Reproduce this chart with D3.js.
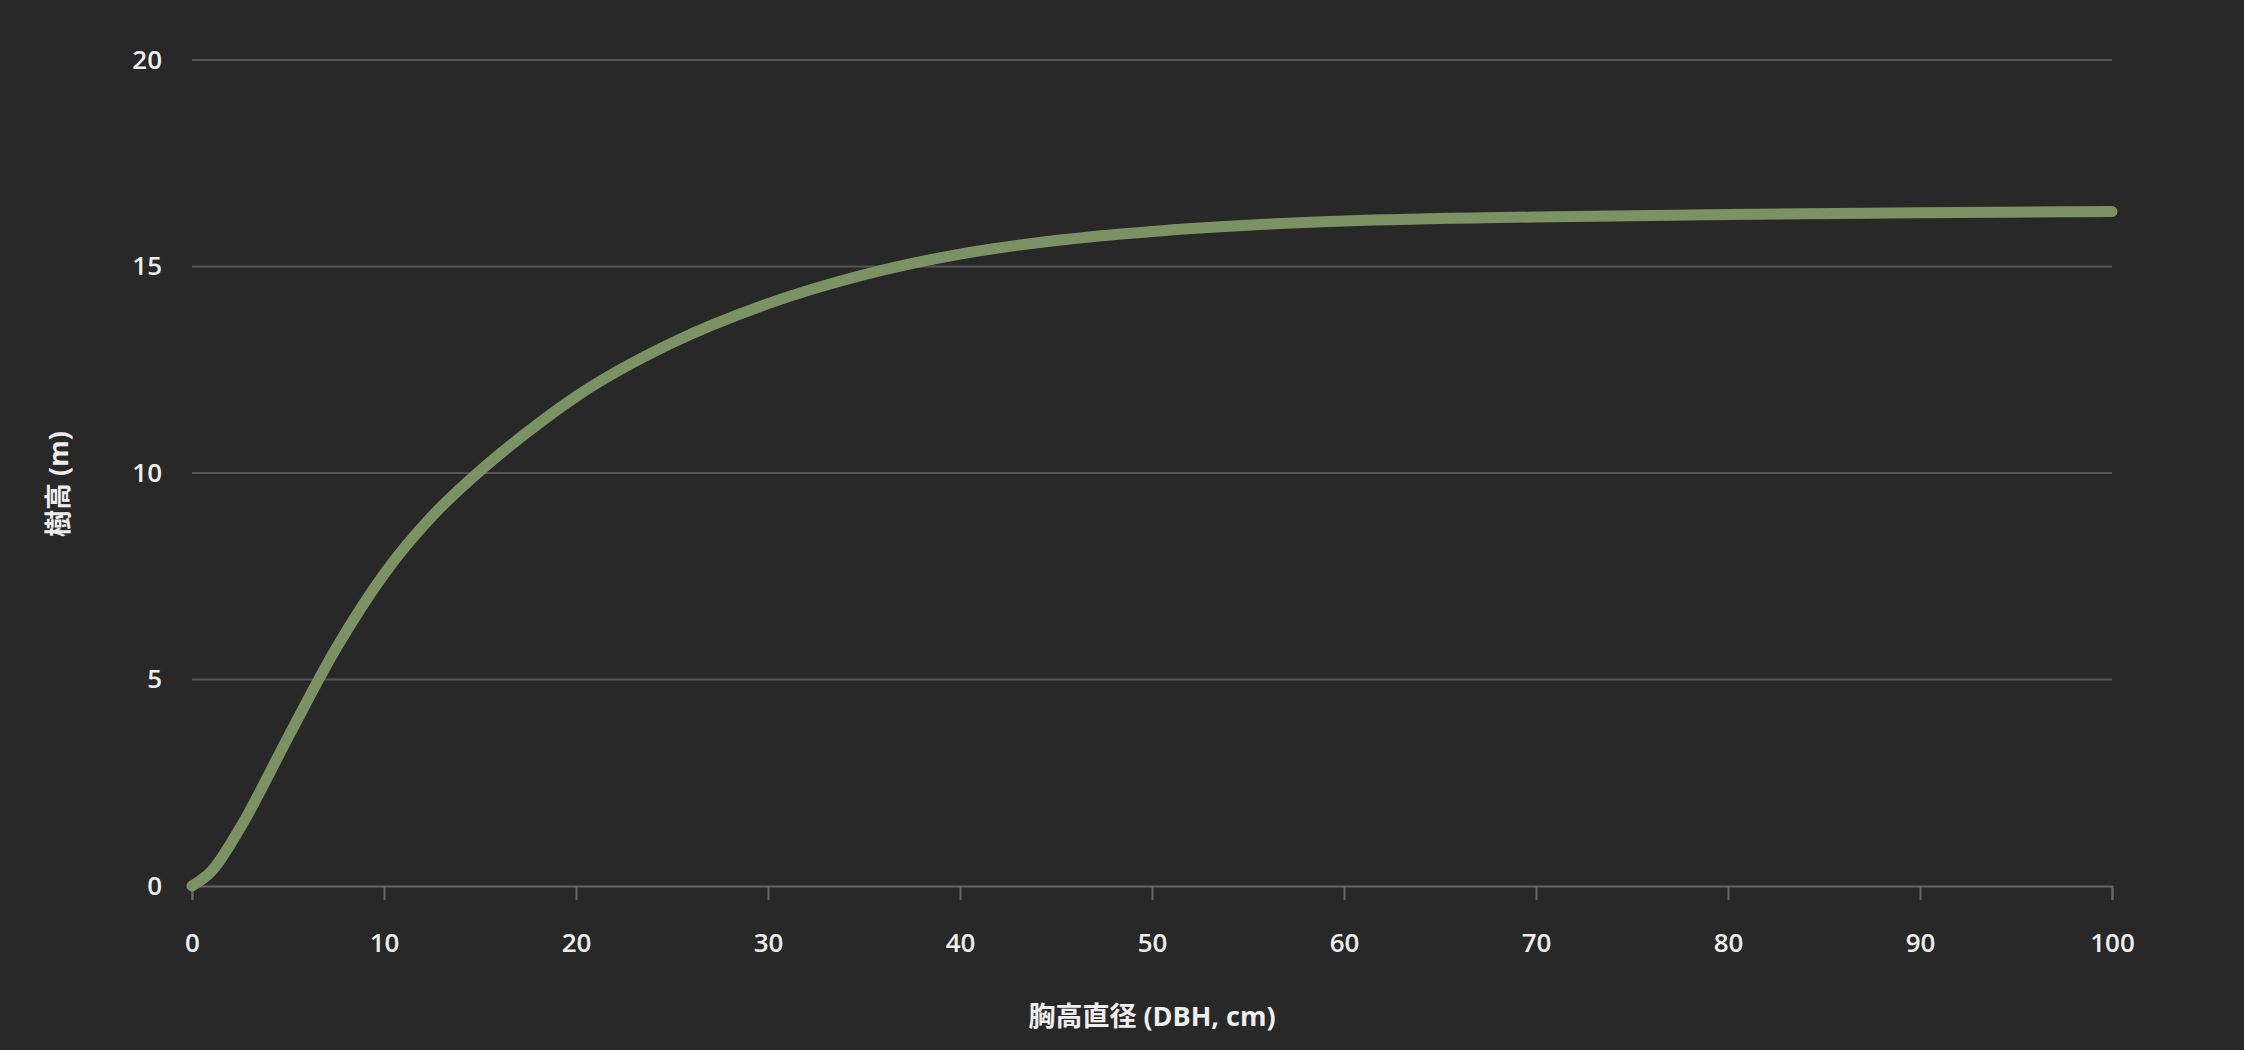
<!DOCTYPE html>
<html><head><meta charset="utf-8">
<script src="https://cdn.jsdelivr.net/npm/d3@7/dist/d3.min.js"></script>
<style>body{margin:0;background:#282828}svg{display:block}</style></head>
<body><svg id="c" width="2244" height="1050"></svg>
<script>
const dbh =    [0, 1,   2.5, 5,   7.5,  10,   12.5, 15,    17.5, 20,    25,    30,   35,   40,   45,    50,    55,   60,   70,   80,    90,   100];
const height = [0, 0.35,1.4, 3.6, 5.75, 7.55, 8.95, 10.05, 11.0, 11.85, 13.15, 14.1, 14.8, 15.3, 15.63, 15.85, 16.0, 16.1, 16.2, 16.26, 16.3, 16.33];
const xTicks = [0,10,20,30,40,50,60,70,80,90,100];
const yTicks = [0,5,10,15,20];
const xTitle = "胸高直径 (DBH, cm)";
const yTitle = "樹高 (m)";

const svg = d3.select("#c");
const font = "'Open Sans','Noto Sans CJK JP',sans-serif";
const x = d3.scaleLinear().domain([0,100]).range([192,2112]);
const y = d3.scaleLinear().domain([0,20]).range([886,60]);

svg.append("g").selectAll("line").data(yTicks.filter(d=>d>0)).join("line")
  .attr("x1",192).attr("x2",2112).attr("y1",d=>y(d)).attr("y2",d=>y(d))
  .attr("stroke","#555").attr("stroke-width",2);

const xa = svg.append("g").attr("transform","translate(0,886)")
  .call(d3.axisBottom(x).tickValues(xTicks).tickSize(14).tickPadding(34));
xa.select(".domain").attr("stroke","#666").attr("stroke-width",2);
xa.selectAll(".tick line").attr("stroke","#666").attr("stroke-width",2);
xa.selectAll("text").attr("fill","#eee").style("font",`600 26px ${font}`);

const ya = svg.append("g").attr("transform","translate(192,0)")
  .call(d3.axisLeft(y).tickValues(yTicks).tickSize(0).tickPadding(30));
ya.select(".domain").remove();
ya.selectAll("text").attr("fill","#eee").style("font",`600 26px ${font}`);

svg.append("path").datum(dbh.map((d,i)=>[d,height[i]]))
  .attr("d",d3.line().x(d=>x(d[0])).y(d=>y(d[1])).curve(d3.curveMonotoneX))
  .attr("fill","none").attr("stroke","#7b9364").attr("stroke-width",11)
  .attr("stroke-linecap","round").attr("stroke-linejoin","round");

svg.append("text").attr("x",1152).attr("y",1026).attr("text-anchor","middle")
  .attr("fill","#eee").style("font",`700 27px ${font}`).text(xTitle);
svg.append("text").attr("transform","translate(68,484) rotate(-90)").attr("text-anchor","middle")
  .attr("fill","#eee").style("font",`700 27px ${font}`).text(yTitle);
</script></body></html>
